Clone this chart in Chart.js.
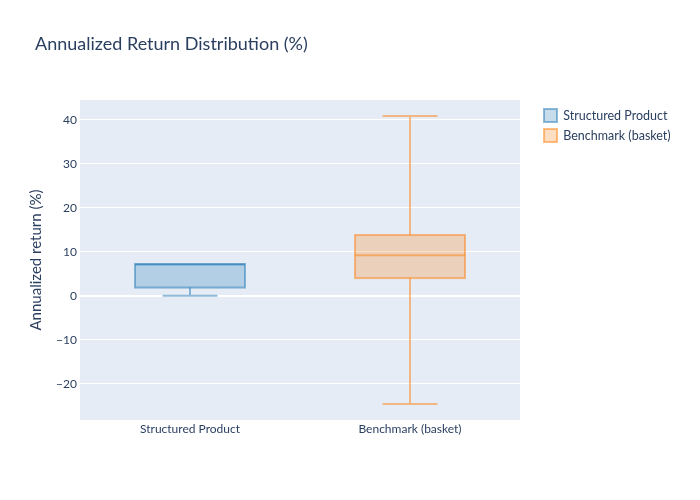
<!DOCTYPE html>
<html>
<head>
<meta charset="utf-8">
<script src="https://cdn.jsdelivr.net/npm/chart.js@4"></script>
<style>
  body { margin: 0; background: #fff; }
  #wrap { width: 700px; height: 500px; }
</style>
</head>
<body>
<div id="wrap"><canvas id="boxChart" width="700" height="500"></canvas></div>
<script>
// box stats (%)
var categories = ['Structured Product', 'Benchmark (basket)'];
var lowerWhisker = [0, -24.6];
var q1 = [1.85, 4.0];
var median = [7.1, 9.2];
var q3 = [7.2, 13.8];
var upperWhisker = [7.2, 40.85];
var yTicks = [-20, -10, 0, 10, 20, 30, 40];

var lineColors = ['rgba(31,119,180,0.5)', 'rgba(255,127,14,0.5)'];
var fillColors = ['rgba(31,119,180,0.25)', 'rgba(255,127,14,0.25)'];
var textColor = '#2a3f5f';

Chart.defaults.font.family = 'Lato, "Open Sans", sans-serif';
Chart.defaults.color = textColor;

// one dataset per trace, so the legend gets one entry each
var datasets = categories.map(function (name, i) {
  var data = categories.map(function (c, j) { return j === i ? [q1[i], q3[i]] : null; });
  return {
    label: name,
    data: data,
    backgroundColor: fillColors[i],
    borderColor: lineColors[i],
    borderWidth: 0,
    grouped: false,
    barPercentage: 0.5,
    categoryPercentage: 1
  };
});

var plotBg = {
  id: 'plotBg',
  beforeDraw: function (chart) {
    var a = chart.chartArea, ctx = chart.ctx;
    ctx.save();
    ctx.fillStyle = '#e5ecf6';
    ctx.fillRect(a.left, a.top, a.right - a.left, a.bottom - a.top);
    ctx.restore();
  }
};

// fixed legend column like plotly
var legendFix = {
  id: 'legendFix',
  beforeLayout: function (chart) {
    var lg = chart.legend;
    if (lg && !lg._fixed) {
      var fit = lg.fit.bind(lg);
      lg.fit = function () { fit(); this.width = 180; };
      lg._fixed = true;
    }
  },
  afterLayout: function (chart) {
    if (chart.legend) {
      chart.legend.left += 17;
      chart.legend.top += 2;
    }
  }
};

// box outline (centred on the quartiles), median line, whiskers
var boxParts = {
  id: 'boxParts',
  afterDatasetsDraw: function (chart) {
    var ctx = chart.ctx, y = chart.scales.y;
    categories.forEach(function (c, i) {
      var bar = chart.getDatasetMeta(i).data[i];
      if (!bar) return;
      var x = bar.x, half = bar.width / 2, cap = bar.width / 4;
      var yTop = y.getPixelForValue(q3[i]), yBot = y.getPixelForValue(q1[i]);
      ctx.save();
      ctx.strokeStyle = lineColors[i];
      ctx.lineWidth = 2;
      ctx.strokeRect(x - half, yTop, half * 2, yBot - yTop);
      ctx.beginPath();
      ctx.moveTo(x - half, y.getPixelForValue(median[i]));
      ctx.lineTo(x + half, y.getPixelForValue(median[i]));
      if (upperWhisker[i] > q3[i]) {
        ctx.moveTo(x, yTop);
        ctx.lineTo(x, y.getPixelForValue(upperWhisker[i]));
        ctx.moveTo(x - cap, y.getPixelForValue(upperWhisker[i]));
        ctx.lineTo(x + cap, y.getPixelForValue(upperWhisker[i]));
      }
      if (lowerWhisker[i] < q1[i]) {
        ctx.moveTo(x, yBot);
        ctx.lineTo(x, y.getPixelForValue(lowerWhisker[i]));
        ctx.moveTo(x - cap, y.getPixelForValue(lowerWhisker[i]));
        ctx.lineTo(x + cap, y.getPixelForValue(lowerWhisker[i]));
      }
      ctx.stroke();
      ctx.restore();
    });
  }
};

var ctx = document.getElementById('boxChart').getContext('2d');
var myChart = new Chart(ctx, {
  type: 'bar',
  data: {
    labels: categories,
    datasets: datasets
  },
  options: {
    responsive: false,
    animation: false,
    layout: { padding: { left: 35, right: 0, top: 0, bottom: 58 } },
    plugins: {
      title: {
        display: true,
        text: 'Annualized Return Distribution (%)',
        align: 'start',
        color: textColor,
        font: { size: 18, weight: 'normal' },
        padding: { top: 33, bottom: 45.4 }
      },
      legend: {
        position: 'right',
        align: 'start',
        fullSize: false,
        labels: {
          boxWidth: 13,
          boxHeight: 13,
          padding: 7,
          color: textColor,
          font: { size: 12.5 },
          generateLabels: function (chart) {
            var items = Chart.defaults.plugins.legend.labels.generateLabels(chart);
            items.forEach(function (it, i) {
              it.fillStyle = fillColors[i];
              it.strokeStyle = lineColors[i];
              it.lineWidth = 2;
            });
            return items;
          }
        }
      },
      tooltip: { enabled: false }
    },
    scales: {
      x: {
        grid: { display: false, drawTicks: false },
        border: { display: false },
        ticks: { color: textColor, font: { size: 12 }, padding: 2 },
        afterFit: function (s) { s.height = 22; }
      },
      y: {
        min: -28.25,
        max: 44.48,
        afterBuildTicks: function (s) {
          s.ticks = yTicks.map(function (v) { return { value: v }; });
        },
        grid: {
          color: '#ffffff',
          lineWidth: function (c) { return c.tick && c.tick.value === 0 ? 2 : 1; },
          drawTicks: false
        },
        border: { display: false },
        ticks: {
          color: textColor,
          font: { size: 12 },
          padding: 3,
          callback: function (v) { return v < 0 ? '\u2212' + Math.abs(v) : String(v); }
        },
        title: {
          display: true,
          text: 'Annualized return (%)',
          color: textColor,
          font: { size: 15 },
          padding: { top: -8, bottom: 0 }
        },
        afterFit: function (s) { s.width = 45; }
      }
    }
  },
  plugins: [plotBg, legendFix, boxParts]
});
</script>
</body>
</html>
